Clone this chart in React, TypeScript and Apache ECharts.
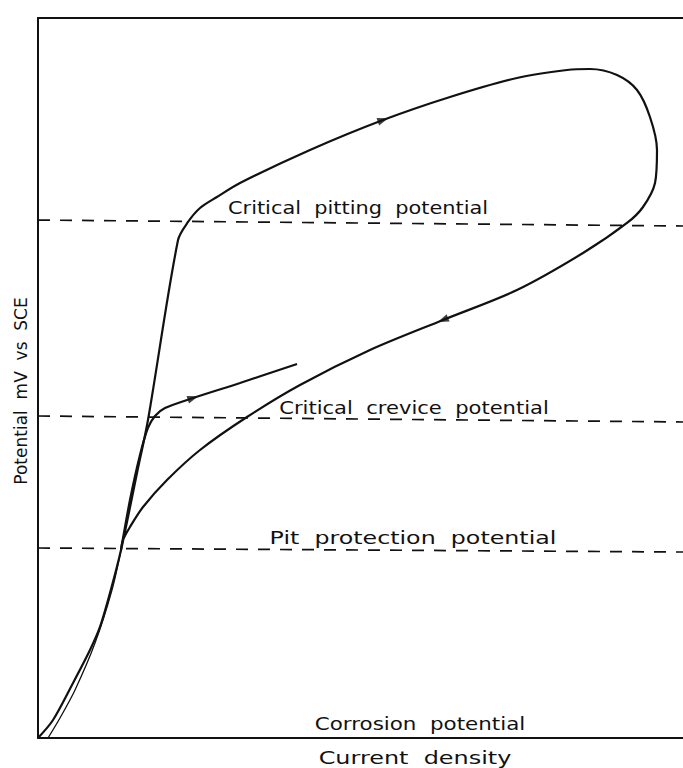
import React, { useEffect, useRef } from "react";
import * as echarts from "echarts";

// Anodic scan (forward) and reverse scan loop, arbitrary units (0-100)
const mainCurve: [number, number][] = [
  [0, 0], [2.33, 2.5], [5.43, 7.64], [8.06, 12.22], [9.61, 15.42], [11.16, 20.14],
  [12.87, 26.11], [15.35, 36.81], [17.05, 44.17], [21.71, 69.17], [23.26, 71.67],
  [25.12, 73.61], [27.75, 75.14], [31.32, 77.08], [42.17, 81.67], [53.49, 85.83],
  [63.88, 89.03], [74.26, 91.67], [82.02, 92.78], [85.58, 92.92], [89.77, 92.08],
  [92.87, 90.0], [94.88, 86.25], [95.97, 81.67], [95.66, 77.08], [93.8, 73.75],
  [91.32, 71.53], [84.5, 67.36], [74.26, 62.22], [62.79, 58.06], [51.47, 53.89],
  [40.62, 49.03], [32.4, 44.58], [25.12, 40.0], [20.0, 35.83], [16.28, 32.08],
  [14.26, 29.31], [13.18, 27.5], [12.87, 26.11],
];
const returnTail: [number, number][] = [
  [12.87, 26.11], [11.47, 20.56], [8.84, 13.19], [5.74, 6.67], [3.41, 2.78], [1.55, 0],
];
const creviceBranch: [number, number][] = [
  [12.87, 26.11], [14.26, 33.06], [15.81, 39.31], [17.05, 43.06], [18.14, 44.72],
  [19.69, 45.83], [24.03, 47.22], [31.32, 49.31], [40.16, 51.94],
];
const pittingLine: [number, number][] = [[0, 71.94], [100, 71.11]];
const creviceLine: [number, number][] = [[0, 44.72], [100, 43.89]];
const protectionLine: [number, number][] = [[0, 26.39], [100, 25.83]];
const arrowAt: [number, number][] = [[53.49, 85.83], [62.79, 58.06], [24.03, 47.22]];
const arrowToward: [number, number][] = [[63.88, 89.03], [51.47, 53.89], [31.32, 49.31]];

const FONT = "DejaVu Sans";

export default function App() {
  const ref = useRef<HTMLDivElement>(null);
  useEffect(() => {
    if (!ref.current) return;
    const chart = echarts.init(ref.current, null, { renderer: "svg" });
    const axisCommon = {
      type: "value" as const,
      min: 0,
      max: 100,
      axisTick: { show: false },
      axisLabel: { show: false },
      splitLine: { show: false },
      axisLine: { show: true, onZero: false, lineStyle: { color: "#111", width: 2 } },
    };
    const curveStyle = { color: "#111", width: 2.2 };
    const dashStyle = { color: "#111", width: 1.7, type: [12, 10] as number[] };
    const txt = (text: string, x: number, y: number, sx = 1, rotation = 0, size = 18) => ({
      type: "text",
      x,
      y,
      rotation,
      scaleX: sx,
      style: {
        text,
        fill: "#111",
        font: `${size}px "${FONT}"`,
        align: "center",
        verticalAlign: "middle",
      },
    });
    const baseOption: any = {
      animation: false,
      backgroundColor: "#fff",
      grid: { left: 38, right: 0, top: 18, bottom: 30 },
      xAxis: [
        { ...axisCommon, position: "bottom" },
        { ...axisCommon, position: "top" },
      ],
      yAxis: [{ ...axisCommon, position: "left" }],
      series: [
        { type: "line", data: pittingLine, showSymbol: false, lineStyle: dashStyle, silent: true },
        { type: "line", data: creviceLine, showSymbol: false, lineStyle: dashStyle, silent: true },
        { type: "line", data: protectionLine, showSymbol: false, lineStyle: dashStyle, silent: true },
        { type: "line", data: mainCurve, showSymbol: false, smooth: 0.3, lineStyle: curveStyle },
        { type: "line", data: returnTail, showSymbol: false, smooth: 0.3, lineStyle: { color: "#111", width: 1.3 } },
        { type: "line", data: creviceBranch, showSymbol: false, smooth: 0.3, lineStyle: curveStyle },
        {
          type: "scatter",
          data: arrowAt,
          symbol: "triangle",
          symbolSize: [8, 11],
          itemStyle: { color: "#111" },
        },
      ],
      graphic: [
        txt("Critical  pitting  potential", 358, 208, 1.16),
        txt("Critical  crevice  potential", 414, 408, 1.17),
        txt("Pit  protection  potential", 413, 538, 1.32),
        txt("Corrosion  potential", 420, 724, 1.19),
        txt("Current  density", 415, 758, 1.33),
        txt("Potential  mV  vs  SCE", 21, 391, 1, Math.PI / 2, 17),
      ],
    };
    chart.setOption(baseOption);
    const arrowData = arrowAt.map((p, i) => {
      const a = chart.convertToPixel({ seriesIndex: 6 }, p) as number[];
      const b = chart.convertToPixel({ seriesIndex: 6 }, arrowToward[i]) as number[];
      const ang = (Math.atan2(-(b[1] - a[1]), b[0] - a[0]) * 180) / Math.PI;
      return { value: p, symbolRotate: ang - 90 };
    });
    chart.setOption({ series: [{}, {}, {}, {}, {}, {}, { data: arrowData }] });
    return () => chart.dispose();
  }, []);
  return (
    <div
      ref={ref}
      style={{ position: "fixed", left: 0, top: 0, width: 683, height: 768 }}
    />
  );
}
